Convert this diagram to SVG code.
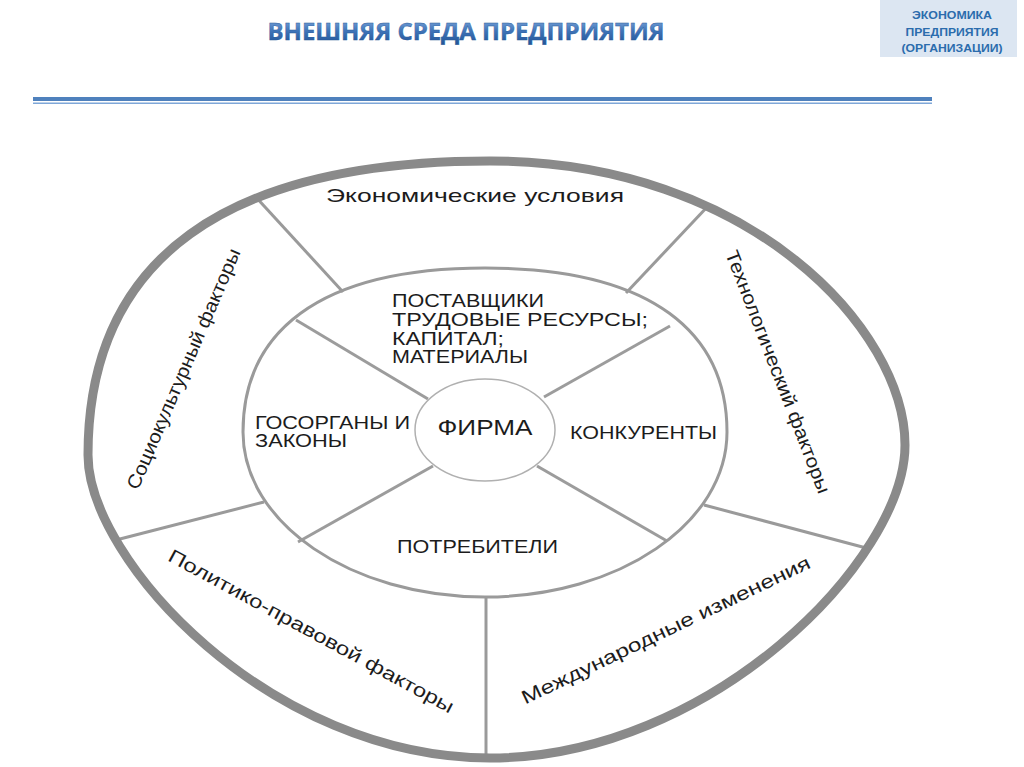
<svg xmlns="http://www.w3.org/2000/svg" width="1024" height="767" viewBox="0 0 1024 767">
<defs>
<linearGradient id="tg" x1="0" y1="0" x2="0" y2="1">
<stop offset="0" stop-color="#8fb6e6"/>
<stop offset="0.5" stop-color="#3f74b8"/>
<stop offset="1" stop-color="#1d4f91"/>
</linearGradient>
<style>
.t{font-family:"Liberation Sans",Arial,sans-serif;fill:#1c1c1c;}
.div{stroke:#9a9a9a;stroke-width:3;fill:none;}
.spk{stroke:#9c9c9c;stroke-width:3;fill:none;}
</style>
</defs>
<rect width="1024" height="767" fill="#ffffff"/>
<g id="header">
<text x="466" y="40" text-anchor="middle" font-family="'Open Sans','Liberation Sans',Arial,sans-serif" font-weight="bold" font-size="23" fill="url(#tg)" stroke="#2a5a9a" stroke-width="0.4" textLength="397" lengthAdjust="spacingAndGlyphs">ВНЕШНЯЯ СРЕДА ПРЕДПРИЯТИЯ</text>
<rect x="880" y="0" width="137" height="57" fill="#dce6f2"/>
<g font-family="'Liberation Sans',Arial,sans-serif" font-weight="bold" font-size="11.5" fill="#2b6cad" text-anchor="middle">
<text x="952" y="19" textLength="80" lengthAdjust="spacingAndGlyphs">ЭКОНОМИКА</text>
<text x="952" y="36" textLength="93" lengthAdjust="spacingAndGlyphs">ПРЕДПРИЯТИЯ</text>
<text x="952" y="52" textLength="101" lengthAdjust="spacingAndGlyphs">(ОРГАНИЗАЦИИ)</text>
</g>
<rect x="33" y="97" width="899" height="4" fill="#4f81bd"/>
<rect x="33" y="102.5" width="899" height="1.5" fill="#7fa7d8"/>
</g>
<g id="connectors">
<line class="div" x1="254" y1="195" x2="343" y2="292"/>
<line class="div" x1="709" y1="205" x2="626" y2="293"/>
<line class="div" x1="870" y1="549" x2="704" y2="505"/>
<line class="div" x1="116" y1="540" x2="264" y2="502"/>
<line class="div" x1="486" y1="760" x2="486" y2="596"/>
<line class="spk" x1="296" y1="320" x2="428" y2="399"/>
<line class="spk" x1="670" y1="326" x2="544" y2="397"/>
<line class="spk" x1="298" y1="542" x2="433" y2="466"/>
<line class="spk" x1="537" y1="466" x2="667" y2="541"/>
</g>
<g id="outer-ring">
<path d="M490,161 C750,161 905,330 905,445 C905,560 710,758 490,758 C270,758 88,560 88,455 C88,258 226,161 490,161 Z" fill="none" stroke="#8a8a8a" stroke-width="9"/>
</g>
<g id="middle-ring">
<path d="M243,432 C243,334 316,268 485,268 C654,268 727,334 727,432 C727,523 619,597 485,597 C351,597 243,523 243,432 Z" fill="none" stroke="#9a9a9a" stroke-width="3"/>
</g>
<g id="firm">
<ellipse cx="485" cy="430" rx="70" ry="51" fill="#ffffff" stroke="#b0b0b0" stroke-width="1.5"/>
<text class="t" x="485" y="435" text-anchor="middle" font-size="22" textLength="95" lengthAdjust="spacingAndGlyphs">ФИРМА</text>
</g>
<g id="suppliers">
<text class="t" x="392" y="307" font-size="18" textLength="152" lengthAdjust="spacingAndGlyphs">ПОСТАВЩИКИ</text>
<text class="t" x="392" y="326" font-size="18" textLength="256" lengthAdjust="spacingAndGlyphs">ТРУДОВЫЕ РЕСУРСЫ;</text>
<text class="t" x="392" y="345" font-size="18" textLength="112" lengthAdjust="spacingAndGlyphs">КАПИТАЛ;</text>
<text class="t" x="392" y="363" font-size="18" textLength="136" lengthAdjust="spacingAndGlyphs">МАТЕРИАЛЫ</text>
</g>
<g id="government">
<text class="t" x="255" y="429" font-size="18" textLength="155" lengthAdjust="spacingAndGlyphs">ГОСОРГАНЫ И</text>
<text class="t" x="255" y="447" font-size="18" textLength="92" lengthAdjust="spacingAndGlyphs">ЗАКОНЫ</text>
</g>
<g id="competitors">
<text class="t" x="570" y="439" font-size="18" textLength="147" lengthAdjust="spacingAndGlyphs">КОНКУРЕНТЫ</text>
</g>
<g id="consumers">
<text class="t" x="397" y="553" font-size="18" textLength="161" lengthAdjust="spacingAndGlyphs">ПОТРЕБИТЕЛИ</text>
</g>
<g id="economic">
<text class="t" x="326" y="202" font-size="19" textLength="298" lengthAdjust="spacingAndGlyphs">Экономические условия</text>
</g>
<g id="sociocultural">
<text class="t" transform="translate(184,369) rotate(-66.7)" x="0" y="6" text-anchor="middle" font-size="19" textLength="260" lengthAdjust="spacingAndGlyphs">Социокультурный факторы</text>
</g>
<g id="technological">
<text class="t" transform="translate(777.5,372) rotate(68.8)" x="0" y="6" text-anchor="middle" font-size="19" textLength="259" lengthAdjust="spacingAndGlyphs">Технологический факторы</text>
</g>
<g id="political">
<text class="t" transform="translate(311,631.5) rotate(28.5)" x="0" y="6" text-anchor="middle" font-size="19" textLength="322" lengthAdjust="spacingAndGlyphs">Политико-правовой факторы</text>
</g>
<g id="international">
<text class="t" transform="translate(666,630.5) rotate(-25.6)" x="0" y="6" text-anchor="middle" font-size="19" textLength="318" lengthAdjust="spacingAndGlyphs">Международные изменения</text>
</g>
</svg>
